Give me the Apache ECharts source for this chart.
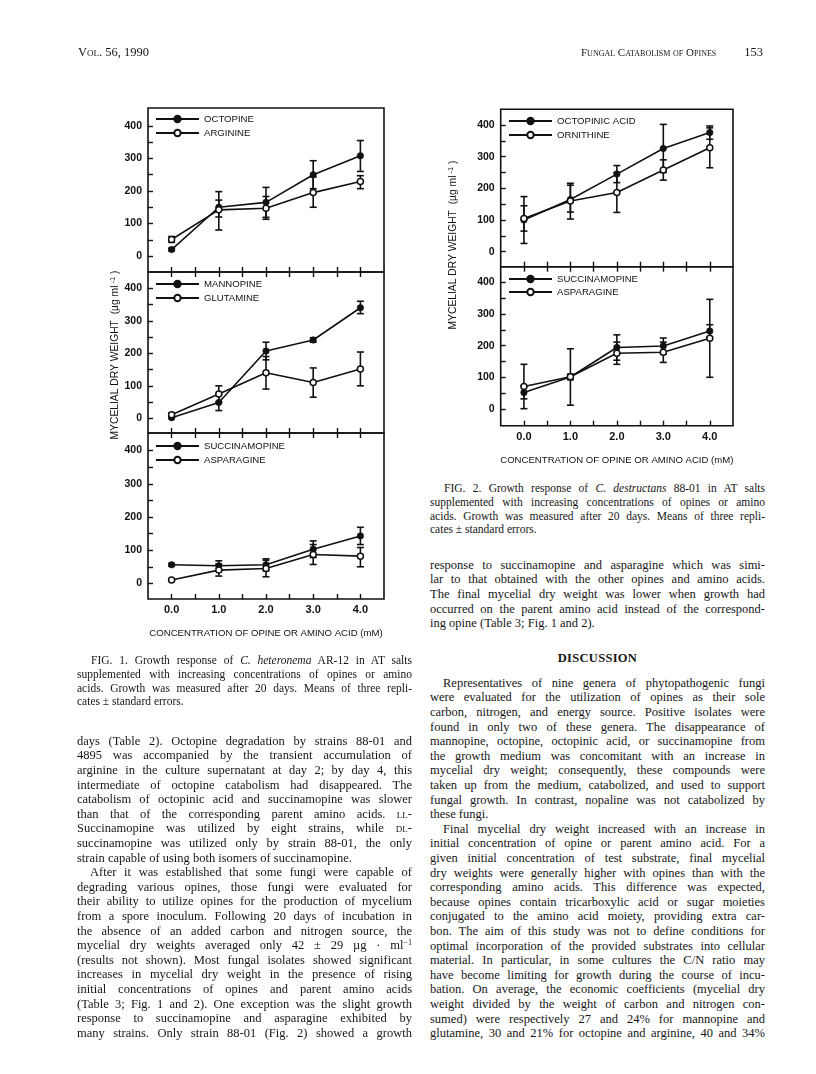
<!DOCTYPE html>
<html><head><meta charset="utf-8">
<script src="https://cdn.jsdelivr.net/npm/echarts@6/dist/echarts.min.js"></script>
<style>
html,body{margin:0;padding:0;background:#fff;}
#page{position:relative;width:816px;height:1074px;overflow:hidden;font-family:"Liberation Serif","Times New Roman",serif;color:#161616;}
.ln{position:absolute;white-space:nowrap;text-align:justify;text-align-last:justify;box-sizing:border-box;}
.sc{font-variant:small-caps;}
sup{font-size:0.65em;line-height:0;vertical-align:0.45em;}
#fig1{position:absolute;left:0;top:0;width:430px;height:660px;}
#fig2{position:absolute;left:430px;top:0;width:386px;height:480px;}
.hdr{position:absolute;font-size:12.5px;line-height:14px;white-space:nowrap;}
</style></head>
<body><div id="page"><div id="fig1"></div><div id="fig2"></div></div>
<script>
// ---------------- DATA ----------------
const conc = [0, 1, 2, 3, 4];
const xTickLabels = ['0.0', '1.0', '2.0', '3.0', '4.0'];
const xLabelValues = [0, 1, 2, 3, 4];
const xTickValues = [0, 0.5, 1, 1.5, 2, 2.5, 3, 3.5, 4];
const yLabelValues = [0, 100, 200, 300, 400];
const yTickValues = [0, 50, 100, 150, 200, 250, 300, 350, 400];

// Fig. 1 (C. heteronema AR-12)
const octopineMean = [20, 150, 165, 250, 308];
const octopineLow  = [16, 120, 119, 207, 260];
const octopineHigh = [24, 198, 211, 293, 355];
const arginineMean = [51, 142, 147, 195, 229];
const arginineLow  = [42, 80, 113, 150, 207];
const arginineHigh = [60, 172, 183, 243, 247];

const mannopineMean = [2, 49, 207, 241, 340];
const mannopineLow  = [0, 24, 180, 234, 322];
const mannopineHigh = [5, 74, 234, 248, 360];
const glutamineMean = [11, 75, 140, 110, 152];
const glutamineLow  = [6, 50, 90, 65, 100];
const glutamineHigh = [16, 100, 190, 155, 204];

const succ1Mean = [56, 53, 56, 103, 143];
const succ1Low  = [52, 38, 38, 78, 117];
const succ1High = [60, 68, 74, 128, 169];
const asp1Mean = [10, 40, 45, 87, 82];
const asp1Low  = [7, 22, 20, 57, 50];
const asp1High = [13, 58, 70, 117, 108];

// Fig. 2 (C. destructans 88-01)
const octopinicMean = [100, 165, 245, 326, 376];
const octopinicLow  = [26, 125, 218, 250, 355];
const octopinicHigh = [174, 210, 272, 402, 397];
const ornithineMean = [105, 160, 187, 258, 328];
const ornithineLow  = [65, 103, 124, 226, 265];
const ornithineHigh = [145, 216, 250, 290, 391];

const succ2Mean = [52, 101, 194, 199, 246];
const succ2Low  = [32, 92, 154, 174, 226];
const succ2High = [72, 110, 234, 224, 266];
const asp2Mean = [71, 102, 176, 179, 223];
const asp2Low  = [1, 12, 141, 147, 100];
const asp2High = [141, 190, 211, 211, 346];

// ---------------- CHART BUILDER ----------------
const SANS = '"Liberation Sans", Arial, Helvetica, sans-serif';
const INK = '#111';

function errRender(params, api) {
  const x = api.value(0), lo = api.value(1), hi = api.value(2);
  const a = api.coord([x, hi]), b = api.coord([x, lo]);
  const w = 3.5, st = {stroke: INK, lineWidth: 1.6};
  return {type: 'group', children: [
    {type: 'line', shape: {x1: a[0], y1: a[1], x2: b[0], y2: b[1]}, style: st},
    {type: 'line', shape: {x1: a[0] - w, y1: a[1], x2: a[0] + w, y2: a[1]}, style: st},
    {type: 'line', shape: {x1: b[0] - w, y1: b[1], x2: b[0] + w, y2: b[1]}, style: st}
  ]};
}

function buildOption(panels, extra) {
  const grid = [], xAxis = [], yAxis = [], series = [], legend = [];
  panels.forEach((p, i) => {
    grid.push({left: p.box[0], top: p.box[1], width: p.box[2], height: p.box[3],
      show: true, borderColor: INK, borderWidth: 1.6, backgroundColor: 'transparent'});
    const last = i === panels.length - 1;
    const tick = {inside: true, length: 5, customValues: xTickValues, lineStyle: {color: INK, width: 1.4}};
    xAxis.push({type: 'value', gridIndex: i, min: -0.5, max: 4.5, position: 'bottom',
      axisLine: {show: false, onZero: false}, splitLine: {show: false}, axisTick: tick,
      axisLabel: {show: last, customValues: xLabelValues, margin: extra.xLabelMargin,
        formatter: v => xTickLabels[xLabelValues.indexOf(v)] || '',
        fontFamily: SANS, fontWeight: 'bold', fontSize: 11, color: INK},
      name: last ? 'CONCENTRATION OF OPINE OR AMINO ACID (mM)' : '',
      nameLocation: 'middle', nameGap: extra.xNameGap,
      nameTextStyle: {fontFamily: SANS, fontSize: 9.6, color: INK}});
    if (i > 0) {
      xAxis.push({type: 'value', gridIndex: i, min: -0.5, max: 4.5, position: 'top',
        axisLine: {show: false, onZero: false}, splitLine: {show: false}, axisTick: tick, axisLabel: {show: false}});
    }
    yAxis.push({type: 'value', gridIndex: i, min: p.yr[0], max: p.yr[1], position: 'left',
      axisLine: {show: false, onZero: false}, splitLine: {show: false},
      axisTick: {inside: true, length: 5, customValues: yTickValues, lineStyle: {color: INK, width: 1.4}},
      axisLabel: {customValues: yLabelValues, margin: 6, fontFamily: SANS, fontWeight: 'bold', fontSize: 10.5, color: INK}});
  });
  let xi = 0;
  panels.forEach((p, i) => {
    const xIdx = xi; xi += (i > 0 ? 2 : 1);
    p.series.forEach((s) => {
      series.push({type: 'custom', name: s.name + ' err', xAxisIndex: xIdx, yAxisIndex: i,
        renderItem: errRender, encode: {x: 0, y: [1, 2]}, z: 2, silent: true,
        data: conc.map((c, j) => [c, s.low[j], s.high[j]])});
    });
    p.series.forEach((s, k) => {
      const filled = k === 0;
      series.push({type: 'line', name: s.name, xAxisIndex: xIdx, yAxisIndex: i, z: filled ? 4 : 5,
        symbol: 'circle', symbolSize: filled ? 6.5 : 6, showSymbol: true,
        lineStyle: {color: INK, width: 1.6},
        itemStyle: filled ? {color: INK, borderColor: INK, borderWidth: 0.5} : {color: '#fff', borderColor: INK, borderWidth: 1.5},
        data: conc.map((c, j) => [c, s.mean[j]])});
    });
    legend.push({orient: 'vertical', left: p.leg[0], top: p.leg[1], itemWidth: 43, itemHeight: 8,
      itemGap: p.leg[2], selectedMode: false, padding: 0,
      data: p.series.map(s => s.name),
      textStyle: {fontFamily: SANS, fontSize: 9.6, color: INK}});
  });
  return {animation: false, backgroundColor: 'transparent', grid, xAxis, yAxis, series, legend,
    graphic: [{type: 'text', x: extra.yTitle[0], y: extra.yTitle[1], rotation: Math.PI / 2,
      style: {text: '{a|MYCELIAL DRY WEIGHT  (µg ml}{s| -1}{a| )}', align: 'center', verticalAlign: 'middle',
        rich: {a: {fontFamily: SANS, fontSize: 10.3, fill: INK, lineHeight: 12},
               s: {fontFamily: SANS, fontSize: 7.5, fill: INK, verticalAlign: 'top', lineHeight: 12}}}}]};
}

const fig1Panels = [
  {box: [148, 108, 236, 164], yr: [-49, 455], leg: [155, 114, 4],
   series: [{name: 'OCTOPINE', mean: octopineMean, low: octopineLow, high: octopineHigh},
            {name: 'ARGININE', mean: arginineMean, low: arginineLow, high: arginineHigh}]},
  {box: [148, 272, 236, 161], yr: [-45, 450], leg: [155, 279, 4],
   series: [{name: 'MANNOPINE', mean: mannopineMean, low: mannopineLow, high: mannopineHigh},
            {name: 'GLUTAMINE', mean: glutamineMean, low: glutamineLow, high: glutamineHigh}]},
  {box: [148, 433, 236, 166], yr: [-47, 453], leg: [155, 441, 4],
   series: [{name: 'SUCCINAMOPINE', mean: succ1Mean, low: succ1Low, high: succ1High},
            {name: 'ASPARAGINE', mean: asp1Mean, low: asp1Low, high: asp1High}]}
];
const fig2Panels = [
  {box: [70.7, 109.3, 232.3, 157.4], yr: [-47.4, 449.6], leg: [78, 116, 4],
   series: [{name: 'OCTOPINIC ACID', mean: octopinicMean, low: octopinicLow, high: octopinicHigh},
            {name: 'ORNITHINE', mean: ornithineMean, low: ornithineLow, high: ornithineHigh}]},
  {box: [70.7, 266.7, 232.3, 159], yr: [-52.7, 449], leg: [78, 274, 3],
   series: [{name: 'SUCCINAMOPINE', mean: succ2Mean, low: succ2Low, high: succ2High},
            {name: 'ASPARAGINE', mean: asp2Mean, low: asp2Low, high: asp2High}]}
];

echarts.init(document.getElementById('fig1'), null, {renderer: 'canvas'})
  .setOption(buildOption(fig1Panels, {xLabelMargin: 5, xNameGap: 29, yTitle: [115, 355]}));
echarts.init(document.getElementById('fig2'), null, {renderer: 'canvas'})
  .setOption(buildOption(fig2Panels, {xLabelMargin: 6, xNameGap: 30, yTitle: [23, 245]}));

// ---------------- PAGE TEXT ----------------
const page = document.getElementById('page');
function hdr(x, y, html, align) {
  const d = document.createElement('div'); d.className = 'hdr'; d.innerHTML = html;
  d.style.top = (y - 7) + 'px';
  if (align === 'right') d.style.right = (816 - x) + 'px'; else d.style.left = x + 'px';
  page.appendChild(d);
}
hdr(78, 52, '<span class="sc">Vol. 56, 1990</span>');
hdr(581, 52, '<span class="sc" style="font-size:11px">Fungal Catabolism of Opines</span>');
hdr(763, 52, '153', 'right');

function block(x, y0, w, fs, lh, lines, indent) {
  lines.forEach((s, i) => {
    let ind = false, last = false;
    if (s.startsWith('^')) { ind = true; s = s.slice(1); }
    if (s.endsWith('$')) { last = true; s = s.slice(0, -1); }
    const d = document.createElement('div'); d.className = 'ln';
    d.style.cssText = `left:${x}px;top:${(y0 + i * lh - lh / 2).toFixed(2)}px;width:${w}px;font-size:${fs}px;line-height:${lh}px;height:${lh}px;` +
      (ind ? `padding-left:${indent}px;` : '') + (last ? 'text-align-last:left;' : '');
    d.innerHTML = s;
    page.appendChild(d);
  });
}

const fig1Caption = [
  '^FIG. 1. Growth response of <i>C. heteronema</i> AR-12 in AT salts',
  'supplemented with increasing concentrations of opines or amino',
  'acids. Growth was measured after 20 days. Means of three repli-',
  'cates ± standard errors.$'
];
const fig2Caption = [
  '^FIG. 2. Growth response of <i>C. destructans</i> 88-01 in AT salts',
  'supplemented with increasing concentrations of opines or amino',
  'acids. Growth was measured after 20 days. Means of three repli-',
  'cates ± standard errors.$'
];
const leftText = [
  'days (Table 2). Octopine degradation by strains 88-01 and',
  '4895 was accompanied by the transient accumulation of',
  'arginine in the culture supernatant at day 2; by day 4, this',
  'intermediate of octopine catabolism had disappeared. The',
  'catabolism of octopinic acid and succinamopine was slower',
  'than that of the corresponding parent amino acids. <span class="sc">ll</span>-',
  'Succinamopine was utilized by eight strains, while <span class="sc">dl</span>-',
  'succinamopine was utilized only by strain 88-01, the only',
  'strain capable of using both isomers of succinamopine.$',
  '^After it was established that some fungi were capable of',
  'degrading various opines, those fungi were evaluated for',
  'their ability to utilize opines for the production of mycelium',
  'from a spore inoculum. Following 20 days of incubation in',
  'the absence of an added carbon and nitrogen source, the',
  'mycelial dry weights averaged only 42 ± 29 µg · ml<sup>−1</sup>',
  '(results not shown). Most fungal isolates showed significant',
  'increases in mycelial dry weight in the presence of rising',
  'initial concentrations of opines and parent amino acids',
  '(Table 3; Fig. 1 and 2). One exception was the slight growth',
  'response to succinamopine and asparagine exhibited by',
  'many strains. Only strain 88-01 (Fig. 2) showed a growth'
];
const rightTextA = [
  'response to succinamopine and asparagine which was simi-',
  'lar to that obtained with the other opines and amino acids.',
  'The final mycelial dry weight was lower when growth had',
  'occurred on the parent amino acid instead of the correspond-',
  'ing opine (Table 3; Fig. 1 and 2).$'
];
const rightTextB = [
  '^Representatives of nine genera of phytopathogenic fungi',
  'were evaluated for the utilization of opines as their sole',
  'carbon, nitrogen, and energy source. Positive isolates were',
  'found in only two of these genera. The disappearance of',
  'mannopine, octopine, octopinic acid, or succinamopine from',
  'the growth medium was concomitant with an increase in',
  'mycelial dry weight; consequently, these compounds were',
  'taken up from the medium, catabolized, and used to support',
  'fungal growth. In contrast, nopaline was not catabolized by',
  'these fungi.$',
  '^Final mycelial dry weight increased with an increase in',
  'initial concentration of opine or parent amino acid. For a',
  'given initial concentration of test substrate, final mycelial',
  'dry weights were generally higher with opines than with the',
  'corresponding amino acids. This difference was expected,',
  'because opines contain tricarboxylic acid or sugar moieties',
  'conjugated to the amino acid moiety, providing extra car-',
  'bon. The aim of this study was not to define conditions for',
  'optimal incorporation of the provided substrates into cellular',
  'material. In particular, in some cultures the C/N ratio may',
  'have become limiting for growth during the course of incu-',
  'bation. On average, the economic coefficients (mycelial dry',
  'weight divided by the weight of carbon and nitrogen con-',
  'sumed) were respectively 27 and 24% for mannopine and',
  'glutamine, 30 and 21% for octopine and arginine, 40 and 34%'
];

const LX = 77, RX = 430, CW = 335, BF = 12.5, PITCH = 14.6;
block(LX, 661, CW, 11.5, 13.7, fig1Caption, 14);
block(LX, 741, CW, BF, PITCH, leftText, 13);
block(RX, 489, CW, 11.5, 13.7, fig2Caption, 14);
block(RX, 565, CW, BF, PITCH, rightTextA, 13);
const disc = document.createElement('div');
disc.className = 'ln';
disc.style.cssText = `left:${RX}px;top:${658 - 7}px;width:${CW}px;font-size:12.5px;line-height:14px;text-align:center;text-align-last:center;font-weight:bold;letter-spacing:0.3px;`;
disc.textContent = 'DISCUSSION';
page.appendChild(disc);
block(RX, 683, CW, BF, PITCH, rightTextB, 13);
</script>
</body></html>
